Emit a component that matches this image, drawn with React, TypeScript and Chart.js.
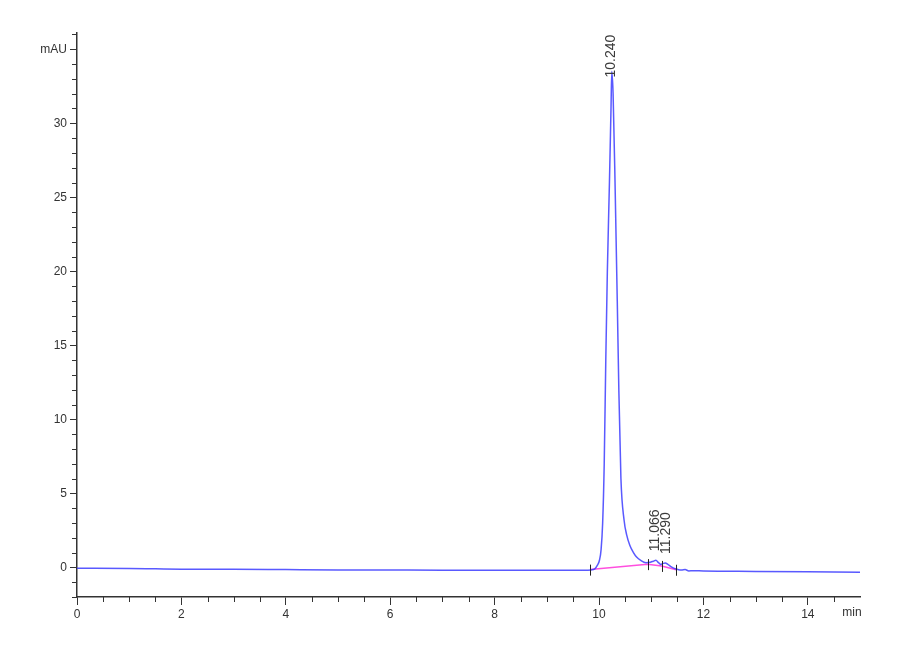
import { useEffect, useRef } from "react";
import { Chart, registerables } from "chart.js";

Chart.register(...registerables);

// retention time (min) and signal (mAU)
const traceTimes = [
  0, 1, 1.5, 2, 3, 4, 5, 6, 7, 8, 9, 9.7, 9.85, 9.92, 9.97, 10.01, 10.04, 10.07, 10.1, 10.13,
  10.16, 10.2, 10.23, 10.245, 10.27, 10.31, 10.35, 10.38, 10.42, 10.48, 10.53, 10.59, 10.66,
  10.72, 10.8, 10.9, 10.98, 11.04, 11.09, 11.14, 11.18, 11.23, 11.27, 11.32, 11.37, 11.43,
  11.5, 11.58, 11.65, 11.72, 11.8, 12, 13, 14, 15,
];
const traceValues = [
  -0.05, -0.08, -0.1, -0.12, -0.13, -0.15, -0.17, -0.18, -0.19, -0.19, -0.19, -0.19, -0.17,
  -0.1, 0.15, 0.5, 1.2, 3, 7, 14, 20, 26, 31, 33.5, 32, 25.5, 18, 12, 6, 3.2, 2.2, 1.5, 1.0,
  0.7, 0.47, 0.32, 0.35, 0.42, 0.48, 0.32, 0.2, 0.27, 0.3, 0.2, 0.07, -0.05, -0.13, -0.18,
  -0.15, -0.24, -0.22, -0.24, -0.27, -0.3, -0.33,
];

// integration baseline (pink)
const baseTimes = [9.83, 10.93, 11.2, 11.48];
const baseValues = [-0.15, 0.22, 0.1, -0.16];

// peak annotations
const peakTimes = [10.24, 11.066, 11.29];
const peakHeights = [33.5, 0.48, 0.3];
const peakLabels = ["10.240", "11.066", "11.290"];

const xMajorTicks = [0, 2, 4, 6, 8, 10, 12, 14];
const yMajorTicks = [0, 5, 10, 15, 20, 25, 30, 35];

const fontFamily = "'Liberation Sans', Arial, sans-serif";

const chromPlugin = {
  id: "chrom",
  afterDraw(chart: Chart) {
    const { ctx, scales } = chart;
    const x = scales.x;
    const y = scales.y;
    const area = chart.chartArea;
    ctx.save();
    ctx.strokeStyle = "#333";
    ctx.lineWidth = 1;

    // minor ticks on x every 0.5 min
    ctx.beginPath();
    for (let t = 0.5; t < 15; t += 0.5) {
      if (xMajorTicks.includes(t)) continue;
      const px = Math.round(x.getPixelForValue(t)) + 0.5;
      ctx.moveTo(px, area.bottom);
      ctx.lineTo(px, area.bottom + 5);
    }
    // minor ticks on y every 1 mAU
    for (let v = -2; v <= 36; v += 1) {
      if (yMajorTicks.includes(v)) continue;
      const py = Math.round(y.getPixelForValue(v)) + 0.5;
      ctx.moveTo(area.left - 5, py);
      ctx.lineTo(area.left, py);
    }
    ctx.stroke();

    // peak delimiter marks
    ctx.strokeStyle = "#222";
    ctx.beginPath();
    baseTimes.forEach((t, i) => {
      const px = Math.round(x.getPixelForValue(t)) + 0.5;
      const py = y.getPixelForValue(baseValues[i]);
      ctx.moveTo(px, py - 5);
      ctx.lineTo(px, py + 6);
    });
    ctx.stroke();

    // rotated retention-time labels
    ctx.fillStyle = "#3a3a3a";
    ctx.font = `14px ${fontFamily}`;
    ctx.textAlign = "left";
    ctx.textBaseline = "middle";
    peakLabels.forEach((label, i) => {
      const px = x.getPixelForValue(peakTimes[i]);
      const py = y.getPixelForValue(peakHeights[i]) + (i === 0 ? 6 : -9);
      ctx.save();
      ctx.translate(px, py);
      ctx.rotate(-Math.PI / 2);
      ctx.fillText(label, 0, 0);
      ctx.restore();
    });

    // unit on the time axis
    ctx.font = `12px ${fontFamily}`;
    ctx.fillStyle = "#333";
    ctx.textAlign = "center";
    ctx.textBaseline = "top";
    ctx.fillText("min", x.getPixelForValue(15) - 8, area.bottom + 10);
    ctx.restore();
  },
};

export default function App() {
  const canvasRef = useRef<HTMLCanvasElement>(null);
  const chartRef = useRef<Chart | null>(null);

  useEffect(() => {
    document.body.style.margin = "0";
    if (!canvasRef.current) return;
    if (chartRef.current) chartRef.current.destroy();

    chartRef.current = new Chart(canvasRef.current, {
      type: "line",
      data: {
        datasets: [
          {
            data: traceTimes.map((t, i) => ({ x: t, y: traceValues[i] })),
            borderColor: "rgba(60, 60, 255, 0.85)",
            borderWidth: 1.5,
            pointRadius: 0,
            cubicInterpolationMode: "monotone",
          },
          {
            data: baseTimes.map((t, i) => ({ x: t, y: baseValues[i] })),
            borderColor: "rgba(255, 60, 220, 0.9)",
            borderWidth: 1.5,
            pointRadius: 0,
          },
        ],
      },
      options: {
        animation: false,
        responsive: false,
        events: [],
        layout: { padding: { top: 33, right: 40, left: 0, bottom: 0 } },
        plugins: {
          legend: { display: false },
          tooltip: { enabled: false },
        },
        scales: {
          x: {
            type: "linear",
            min: 0,
            max: 15,
            afterBuildTicks: (scale) => {
              scale.ticks = xMajorTicks.map((v) => ({ value: v }));
            },
            afterFit: (scale) => {
              scale.height = 63;
            },
            grid: {
              drawOnChartArea: false,
              tickLength: 8,
              color: "#333",
            },
            border: { color: "#333", width: 1.5 },
            ticks: {
              color: "#333",
              font: { family: fontFamily, size: 12 },
              padding: 2,
              maxRotation: 0,
            },
          },
          y: {
            type: "linear",
            min: -2,
            max: 36.1,
            afterBuildTicks: (scale) => {
              scale.ticks = yMajorTicks.map((v) => ({ value: v }));
            },
            afterFit: (scale) => {
              scale.width = 77;
            },
            grid: {
              drawOnChartArea: false,
              tickLength: 7,
              color: "#333",
            },
            border: { color: "#333", width: 1.5 },
            ticks: {
              color: "#333",
              font: { family: fontFamily, size: 12 },
              padding: 3,
              callback: (v) => (v === 35 ? "mAU" : String(v)),
            },
          },
        },
      },
      plugins: [chromPlugin],
    });

    return () => {
      if (chartRef.current) {
        chartRef.current.destroy();
        chartRef.current = null;
      }
    };
  }, []);

  return (
    <div style={{ width: 900, height: 660, background: "white" }}>
      <canvas ref={canvasRef} width={900} height={660}></canvas>
    </div>
  );
}
